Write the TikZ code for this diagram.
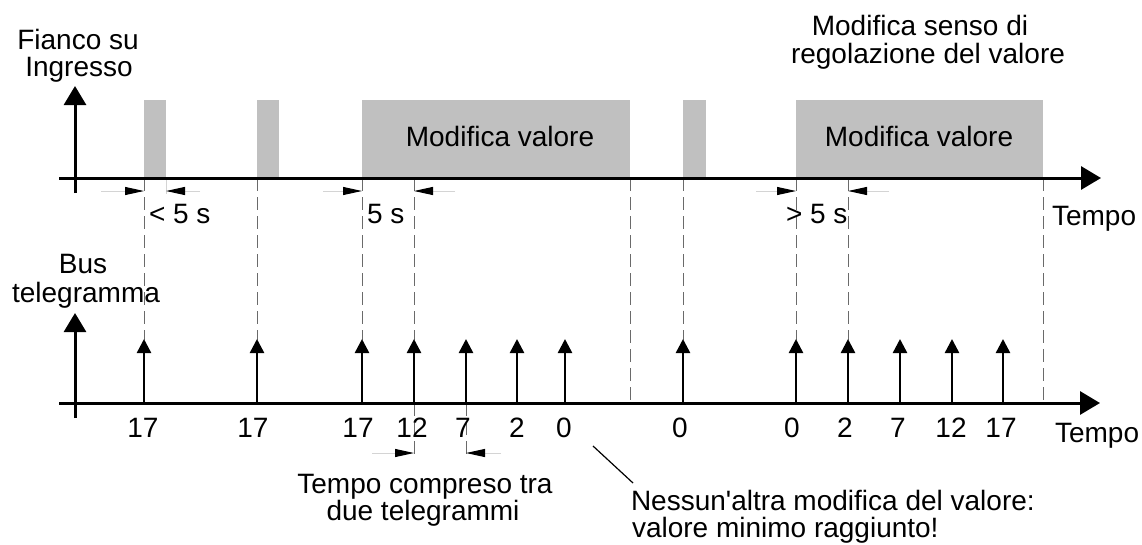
\documentclass[tikz,border=0pt]{standalone}
\usepackage{fontspec}
\setmainfont{Liberation Sans}
\usetikzlibrary{arrows.meta}
\definecolor{boxgray}{HTML}{C0C0C0}
\definecolor{dashgray}{HTML}{6A6A6A}
\definecolor{dimgray}{HTML}{D4D4D4}
\begin{document}
\begin{tikzpicture}[x=1pt,y=-1pt,
  lbl/.style={inner sep=0pt, outer sep=0pt, font=\fontsize{28}{28}\selectfont},
  pulse/.style={fill=boxgray, draw=none, inner sep=0pt, outer sep=0pt, anchor=south west, minimum height=78pt},
  axisline/.style={line width=3pt, -{Triangle[length=20pt,width=23pt]}},
  vaxis/.style={line width=3pt, -{Triangle[length=19pt,width=22pt]}},
  stem/.style={line width=2.5pt, -{Triangle[length=14pt,width=14pt]}},
  guide/.style={draw=dashgray, line width=1pt, dash pattern=on 13pt off 6pt},
  dimline/.style={draw=dimgray, line width=1pt, -{Triangle[length=19pt,width=8pt,color=black]}},
  leader/.style={line width=1.2pt}
]
\useasboundingbox (0,0) rectangle (1142,544);

% pulses on the input
\node[pulse, minimum width=22pt]  (p1) at (144,178) {};
\node[pulse, minimum width=22pt]  (p2) at (257,178) {};
\node[pulse, minimum width=268pt] (p3) at (362,178) {};
\node[pulse, minimum width=23pt]  (p4) at (683,178) {};
\node[pulse, minimum width=247pt] (p5) at (796,178) {};
\node[lbl, anchor=base] (mv1) at (500,146) {Modifica valore};
\node[lbl, anchor=base] (mv2) at (919,146) {Modifica valore};

% guide lines
\foreach \x/\n in {144/a,257/b,362/c,414/d,683/h,796/i,848/j}{
  \coordinate (gt\n) at (\x,178);
  \coordinate (gb\n) at (\x,340);
  \draw[guide] (gt\n) -- (gb\n);
}
\foreach \x/\n in {630/x,1043/y}{
  \coordinate (gt\n) at (\x,178);
  \coordinate (gb\n) at (\x,403);
  \draw[guide] (gt\n) -- (gb\n);
}
\foreach \x/\n in {414/d,466/e}{
  \coordinate (lt\n) at (\x,403);
  \coordinate (lb\n) at (\x,457);
  \draw[guide] (lt\n) -- (lb\n);
}
\coordinate (tk1) at (166,178);
\coordinate (tk2) at (166,194);
\draw[draw=dimgray, line width=1pt] (tk1) -- (tk2);

% axes
\coordinate (ia0) at (59,178);  \coordinate (ia1) at (1101,178);
\coordinate (iv0) at (75,193);  \coordinate (iv1) at (75,86);
\coordinate (ba0) at (59,403);  \coordinate (ba1) at (1100,403);
\coordinate (bv0) at (75,418);  \coordinate (bv1) at (75,313);
\draw[axisline] (ia0) -- (ia1);
\draw[vaxis] (iv0) -- (iv1);
\draw[axisline] (ba0) -- (ba1);
\draw[vaxis] (bv0) -- (bv1);

% telegrams
\foreach \x/\n in {144/a,257/b,362/c,414/d,466/e,517/f,565/g,683/h,796/i,848/j,900/k,952/l,1003/m}{
  \coordinate (sb\n) at (\x,403);
  \coordinate (st\n) at (\x,339);
  \draw[stem] (sb\n) -- (st\n);
}
\foreach \x/\v/\n in {143/17/a,253/17/b,358/17/c,412/12/d,463/7/e,517/2/f,564/0/g,680/0/h,792/0/i,845/2/j,898/7/k,951/12/l,1001/17/m}{
  \node[lbl, anchor=base] (v\n) at (\x,437) {\v};
}

% dimension arrows
\coordinate (d1a) at (101,191); \coordinate (d1b) at (144,191);
\coordinate (d2a) at (200,191); \coordinate (d2b) at (166,191);
\coordinate (d3a) at (323,191); \coordinate (d3b) at (362,191);
\coordinate (d4a) at (455,191); \coordinate (d4b) at (414,191);
\coordinate (d5a) at (756,191); \coordinate (d5b) at (796,191);
\coordinate (d6a) at (889,191); \coordinate (d6b) at (848,191);
\coordinate (d7a) at (372,453); \coordinate (d7b) at (414,453);
\coordinate (d8a) at (501,453); \coordinate (d8b) at (466,453);
\foreach \i in {1,...,8}{ \draw[dimline] (d\i a) -- (d\i b); }

% texts
\node[lbl, anchor=base] (fi1) at (78,49) {Fianco su};
\node[lbl, anchor=base] (fi2) at (79,76) {Ingresso};
\node[lbl, anchor=base] (ms1) at (920,35) {Modifica senso di};
\node[lbl, anchor=base] (ms2) at (928,63) {regolazione del valore};
\node[lbl, anchor=base west] (lt5) at (149,223) {< 5 s};
\node[lbl, anchor=base west] (eq5) at (367,223) {5 s};
\node[lbl, anchor=base west] (gt5) at (786,223) {> 5 s};
\node[lbl, anchor=base west] (tm1) at (1052,225) {Tempo};
\node[lbl, anchor=base] (bu1) at (83,273) {Bus};
\node[lbl, anchor=base] (bu2) at (86,302) {telegramma};
\node[lbl, anchor=base west] (tm2) at (1055,442) {Tempo};
\node[lbl, anchor=base] (tc1) at (425,493) {Tempo compreso tra};
\node[lbl, anchor=base] (tc2) at (423,520) {due telegrammi};
\node[lbl, anchor=base west] (ns1) at (631,510) {Nessun\textquotesingle altra modifica del valore:};
\node[lbl, anchor=base west] (ns2) at (632,537) {valore minimo raggiunto!};
\coordinate (ld0) at (593,446);
\coordinate (ld1) at (633,483);
\draw[leader] (ld0) -- (ld1);
\end{tikzpicture}
\end{document}
